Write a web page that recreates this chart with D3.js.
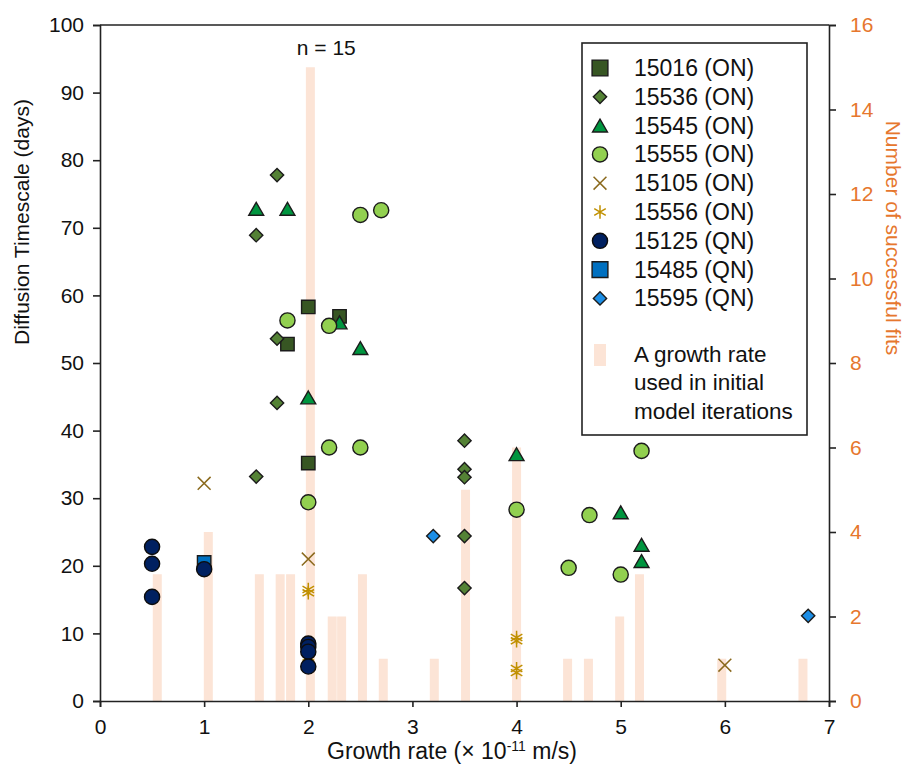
<!DOCTYPE html>
<html><head><meta charset="utf-8">
<script src="https://cdn.jsdelivr.net/npm/d3@7"></script>
<style>body{margin:0;background:#fff}svg{display:block;font-family:"Liberation Sans",Arial,sans-serif}</style>
</head><body><svg id="c" width="909" height="774"></svg>
<script>
// ---- data ----
const xTicks = [0,1,2,3,4,5,6,7];
const yTicks = [0,10,20,30,40,50,60,70,80,90,100];
const y2Ticks = [0,2,4,6,8,10,12,14,16];

const barX = [0.55,1.04,1.53,1.73,1.83,2.02,2.23,2.32,2.52,2.72,3.21,3.51,4.0,4.49,4.69,4.99,5.18,5.97,6.75];
const barN = [3,4,3,3,3,15,2,2,3,1,1,5,6,1,1,2,3,1,1];

const s15016x = [2.0,2.3,1.8,2.0];
const s15016y = [58.3,56.9,52.8,35.2];
const s15536x = [1.7,1.5,1.7,1.7,1.5,3.5,3.5,3.5,3.5,3.5];
const s15536y = [77.8,68.9,53.6,44.1,33.2,38.5,34.3,33.1,24.4,16.7];
const s15545x = [1.5,1.8,2.3,2.5,2.0,4.0,5.0,5.2,5.2];
const s15545y = [72.8,72.8,56.0,52.2,44.9,36.5,27.9,23.1,20.7];
const s15555x = [2.5,2.7,1.8,2.2,2.2,2.5,2.0,4.0,4.5,4.7,5.0,5.2];
const s15555y = [71.9,72.6,56.3,55.5,37.5,37.5,29.4,28.3,19.7,27.5,18.7,37.0];
const s15105x = [1.0,2.0,6.0];
const s15105y = [32.2,21.0,5.3];
const s15556x = [2.0,2.0,2.0,4.0,4.0,4.0,4.0];
const s15556y = [16.5,16.0,6.5,9.4,8.9,4.8,4.2];
const s15125x = [0.5,0.5,0.5,1.0,2.0,2.0,2.0,2.0];
const s15125y = [22.8,20.3,15.4,19.5,8.5,8.0,7.3,5.1];
const s15485x = [1.0];
const s15485y = [20.5];
const s15595x = [3.2,6.8];
const s15595y = [24.4,12.6];

const seriesNames = ["15016 (ON)","15536 (ON)","15545 (ON)","15555 (ON)","15105 (ON)","15556 (ON)","15125 (QN)","15485 (QN)","15595 (QN)"];
const seriesX = [s15016x,s15536x,s15545x,s15555x,s15105x,s15556x,s15125x,s15485x,s15595x];
const seriesY = [s15016y,s15536y,s15545y,s15555y,s15105y,s15556y,s15125y,s15485y,s15595y];
const legendBarText = ["A growth rate","used in initial","model iterations"];

// ---- styles ----
const styles = [
  {shape:"square", fill:"#375623", stroke:"#1b1b1b"},
  {shape:"diamond", fill:"#548235", stroke:"#1b1b1b"},
  {shape:"triangle", fill:"#00953f", stroke:"#1b1b1b"},
  {shape:"circle", fill:"#92d050", stroke:"#1b1b1b"},
  {shape:"x", fill:"none", stroke:"#8b6a1e"},
  {shape:"asterisk", fill:"none", stroke:"#c09000"},
  {shape:"circle", fill:"#002060", stroke:"#0d0d0d"},
  {shape:"square", fill:"#0070c0", stroke:"#1b1b1b"},
  {shape:"diamond", fill:"#1c8ee6", stroke:"#1b1b1b"}
];
const drawOrder = [0,1,2,3,4,5,7,6,8];
const barColor = "#fce4d6";
const orange = "#e6772e";

const L=100,R=829,T=25,B=701;
const svg = d3.select("#c");
const x = d3.scaleLinear().domain([0,7]).range([L,R]);
const y = d3.scaleLinear().domain([0,100]).range([B,T]);
const y2 = d3.scaleLinear().domain([0,16]).range([B,T]);

function symPath(shape){
  const map = {
    square: d3.symbol(d3.symbolSquare,180),
    circle: d3.symbol(d3.symbolCircle,180),
    diamond: d3.symbol(d3.symbolSquare,88),
    triangle: d3.symbol(d3.symbolTriangle,96),
    x: d3.symbol(d3.symbolX,110),
    asterisk: d3.symbol(d3.symbolAsterisk,125)
  };
  return map[shape]();
}
function symTransform(shape, px, py){
  if(shape==="diamond") return `translate(${px},${py}) rotate(45)`;
  if(shape==="triangle") return `translate(${px},${py+2.1})`;
  return `translate(${px},${py})`;
}

// bars
svg.append("g").selectAll("rect").data(barX).join("rect")
  .attr("x", (d)=>x(d)-4.5).attr("width", 9)
  .attr("y", (d,i)=>y2(barN[i])).attr("height", (d,i)=>y2(0)-y2(barN[i]))
  .attr("fill", barColor);

// axes
const axisStroke = "#222";
const gx = svg.append("g").attr("transform",`translate(0,${B})`)
  .call(d3.axisBottom(x).tickValues(xTicks).tickSize(6).tickPadding(12).tickFormat(d3.format("d")));
const gy = svg.append("g").attr("transform",`translate(${L},0)`)
  .call(d3.axisLeft(y).tickValues(yTicks).tickSize(7).tickPadding(9).tickFormat(d3.format("d")));
const gy2 = svg.append("g").attr("transform",`translate(${R},0)`)
  .call(d3.axisRight(y2).tickValues(y2Ticks).tickSize(7).tickPadding(14).tickFormat(d3.format("d")));
[gx,gy,gy2].forEach(g=>{
  g.select(".domain").attr("stroke",axisStroke).attr("stroke-width",1.6);
  g.selectAll(".tick line").attr("stroke",axisStroke).attr("stroke-width",1.6);
  g.selectAll("text").attr("font-size",21).attr("fill","#111").attr("font-family","Liberation Sans, Arial, sans-serif");
});
gy2.selectAll("text").attr("fill",orange);
// top border
svg.append("line").attr("x1",L).attr("x2",R).attr("y1",T).attr("y2",T).attr("stroke",axisStroke).attr("stroke-width",1.6);

// titles
svg.append("text").attr("x",452).attr("y",759).attr("text-anchor","middle").attr("font-size",23).attr("fill","#111")
  .html('Growth rate (× 10<tspan baseline-shift="super" font-size="14">-11</tspan> m/s)');
svg.append("text").attr("transform","translate(29,222) rotate(-90)").attr("text-anchor","middle").attr("font-size",21).attr("fill","#111")
  .text("Diffusion Timescale (days)");
svg.append("text").attr("transform","translate(886,238) rotate(90)").attr("text-anchor","middle").attr("font-size",21).attr("fill",orange)
  .text("Number of successful fits");
svg.append("text").attr("x",x(2.0)+18).attr("y",y2(15)-12).attr("text-anchor","middle").attr("font-size",21).attr("fill","#111").text("n = 15");

// points
drawOrder.forEach(si=>{
  const st = styles[si];
  svg.append("g").selectAll("path").data(seriesX[si]).join("path")
    .attr("d", symPath(st.shape))
    .attr("transform", (d,i)=>symTransform(st.shape, x(d), y(seriesY[si][i])))
    .attr("fill", st.fill).attr("stroke", st.stroke)
    .attr("stroke-width", (st.shape==="x"||st.shape==="asterisk")?1.5:1.4);
});

// legend
const lg = svg.append("g");
lg.append("rect").attr("x",582).attr("y",43).attr("width",225).attr("height",392)
  .attr("fill","#fff").attr("stroke","#222").attr("stroke-width",1.6);
seriesNames.forEach((name,i)=>{
  const st = styles[i];
  const cy = 68 + i*28.8;
  lg.append("path").attr("d", st.shape==="square"? d3.symbol(d3.symbolSquare,250)() : symPath(st.shape))
    .attr("transform", symTransform(st.shape, 600, cy))
    .attr("fill", st.fill).attr("stroke", st.stroke)
    .attr("stroke-width", (st.shape==="x"||st.shape==="asterisk")?1.5:1.4);
  lg.append("text").attr("x",634).attr("y",cy+8).attr("font-size",23).attr("fill","#111").text(name);
});
lg.append("rect").attr("x",594).attr("y",344).attr("width",12).attr("height",22).attr("fill",barColor);
legendBarText.forEach((t,i)=>{
  lg.append("text").attr("x",634).attr("y",362+i*28.3).attr("font-size",22.5).attr("fill","#111").text(t);
});
</script></body></html>
